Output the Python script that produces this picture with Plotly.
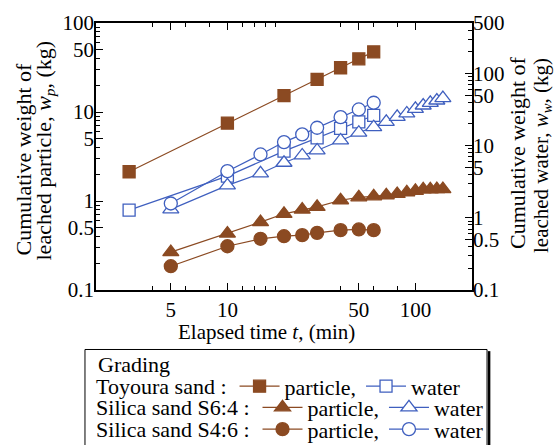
import plotly.graph_objects as go

# Elapsed time (min) and cumulative leached weights (kg)
t_toyoura = [3, 10, 20, 30, 40, 50, 60]
wp_toyoura = [2.13, 7.5, 15.3, 23.2, 31.4, 39.6, 47.4]
ww_toyoura = [1.28, 3.78, 8.4, 12.8, 17.3, 21.4, 26.2]

t_s64 = [5, 10, 15, 20, 25, 30, 40, 50, 60, 70, 80, 90, 100, 110, 120, 130, 140]
wp_s64 = [0.266, 0.431, 0.578, 0.718, 0.80, 0.86, 1.02, 1.10, 1.13, 1.16,
          1.20, 1.25, 1.30, 1.35, 1.35, 1.36, 1.36]
ww_s64 = [1.31, 2.81, 4.12, 5.79, 7.31, 8.57, 11.8, 15.1, 18.0, 21.4,
          25.1, 27.9, 32.4, 36.0, 39.2, 42.2, 45.5]

t_s46 = [5, 10, 15, 20, 25, 30, 40, 50, 60]
wp_s46 = [0.185, 0.310, 0.376, 0.402, 0.413, 0.439, 0.470, 0.479, 0.470]
ww_s46 = [1.58, 4.43, 7.55, 11.2, 14.3, 17.7, 24.8, 31.7, 39.3]

x_ticks = [5, 10, 50, 100]
yl_ticks = [0.1, 0.5, 1, 5, 10, 50, 100]
yr_ticks = [0.1, 0.5, 1, 5, 10, 50, 100, 500]

BROWN = "#8B4A22"
BLUE = "#3F5FBF"
FONT = "Liberation Serif"


def minor_vals(lo, hi):
    vals = []
    dec = lo
    while dec < hi:
        for m in range(2, 10):
            v = round(m * dec, 6)
            if lo < v < hi:
                vals.append(v)
        dec *= 10
    return vals


def fmt(v):
    return "%g" % v


fig = go.Figure()


def add(t, w, name, symbol, color, filled, yaxis, legend, size):
    fig.add_trace(go.Scatter(
        x=t, y=w, name=name, mode="lines+markers", yaxis=yaxis, legend=legend,
        line=dict(color=color, width=1.2),
        marker=dict(symbol=symbol, size=size,
                    color=color if filled else "white",
                    line=dict(color=color, width=1.3)),
        cliponaxis=False,
    ))


add(t_toyoura, wp_toyoura, "particle,", "square", BROWN, True, "y", "legend", 12)
add(t_toyoura, ww_toyoura, "water", "square", BLUE, False, "y2", "legend", 12)
add(t_s64, wp_s64, "particle,", "triangle-up", BROWN, True, "y", "legend2", 14)
add(t_s64, ww_s64, "water", "triangle-up", BLUE, False, "y2", "legend2", 14)
add(t_s46, wp_s46, "particle,", "circle", BROWN, True, "y", "legend3", 13)
add(t_s46, ww_s46, "water", "circle", BLUE, False, "y2", "legend3", 13)

tickfont = dict(family=FONT, size=21, color="black")
axis_common = dict(
    type="log", showgrid=False, zeroline=False, showline=True,
    linecolor="black", linewidth=1.5, ticks="inside", ticklen=7,
    tickwidth=1, tickcolor="black", tickfont=tickfont,
)

fig.update_layout(
    width=555, height=445,
    margin=dict(l=96, r=83, t=23, b=155, autoexpand=False),
    paper_bgcolor="white", plot_bgcolor="white",
    font=dict(family=FONT, size=20, color="black"),
    xaxis=dict(
        **axis_common, range=[0.30103, 2.30103], mirror="ticks",
        tickvals=x_ticks, ticktext=[fmt(v) for v in x_ticks],
        ticklabelstandoff=0,
        minor=dict(tickvals=minor_vals(2, 100), ticks="inside", ticklen=4,
                   tickcolor="black", showgrid=False),
    ),
    yaxis=dict(
        **axis_common, range=[-1, 2],
        tickvals=yl_ticks, ticktext=[fmt(v) for v in yl_ticks],
        ticklabelstandoff=-4,
        minor=dict(tickvals=minor_vals(0.1, 100), ticks="inside", ticklen=4,
                   tickcolor="black", showgrid=False),
    ),
    yaxis2=dict(
        **axis_common, range=[-1, 2.69897], overlaying="y", side="right",
        tickvals=yr_ticks, ticktext=[fmt(v) for v in yr_ticks],
        ticklabelstandoff=-5,
        minor=dict(tickvals=minor_vals(0.1, 500), ticks="inside", ticklen=4,
                   tickcolor="black", showgrid=False),
    ),
    showlegend=True,
)

legend_font = dict(family=FONT, size=22, color="black")
legend_common = dict(
    orientation="h", xanchor="left", yanchor="middle", x=-0.005,
    bgcolor="rgba(0,0,0,0)", borderwidth=0, font=legend_font,
    itemwidth=40, itemclick=False, itemdoubleclick=False, tracegroupgap=0,
)
fig.update_layout(
    legend=dict(**legend_common, y=-0.361,
                title=dict(text="Toyoura sand :", side="left", font=legend_font)),
    legend2=dict(**legend_common, y=-0.440,
                 title=dict(text="Silica sand S6:4 :", side="left", font=legend_font)),
    legend3=dict(**legend_common, y=-0.522,
                 title=dict(text="Silica sand S4:6 :", side="left", font=legend_font)),
)

# legend frame with a drop shadow on the right side
fig.add_shape(type="rect", xref="paper", yref="paper",
              x0=-0.0293, x1=1.040, y0=-0.2228, y1=-0.65,
              line=dict(color="black", width=1), fillcolor="rgba(0,0,0,0)",
              layer="below")
fig.add_shape(type="line", xref="paper", yref="paper",
              x0=1.0455, x1=1.0455, y0=-0.229, y1=-0.65,
              line=dict(color="black", width=2.5))

ann = dict(showarrow=False, xref="paper", yref="paper")
fig.add_annotation(**ann, text="Grading", x=0.0, y=-0.2802,
                   xanchor="left", yanchor="middle",
                   font=legend_font)
fig.add_annotation(**ann, text="Elapsed time <i>t</i>, (min)",
                   x=(266 - 96) / 376, y=(290.5 - 332) / 267,
                   xanchor="center", yanchor="middle",
                   font=dict(family=FONT, size=21, color="black"))

title_font = dict(family=FONT, size=22, color="black")
title_font2 = dict(family=FONT, size=21, color="black")
fig.add_annotation(**ann, text="Cumulative weight of", textangle=-90,
                   x=(23 - 96) / 376, y=(290.5 - 160) / 267,
                   xanchor="center", yanchor="middle", font=title_font)
fig.add_annotation(**ann, text="leached particle, <i>w</i><sub><i>p</i></sub>, (kg)",
                   textangle=-90, x=(44 - 96) / 376, y=(290.5 - 151) / 267,
                   xanchor="center", yanchor="middle", font=title_font)
fig.add_annotation(**ann, text="Cumulative weight of", textangle=-90,
                   x=(517.5 - 96) / 376, y=(290.5 - 153) / 267,
                   xanchor="center", yanchor="middle", font=title_font)
fig.add_annotation(**ann, text="leached water, <i>w</i><sub><i>w</i></sub>, (kg)",
                   textangle=-90, x=(541.5 - 96) / 376, y=(290.5 - 156) / 267,
                   xanchor="center", yanchor="middle", font=title_font2)

fig.write_html("out.html")
